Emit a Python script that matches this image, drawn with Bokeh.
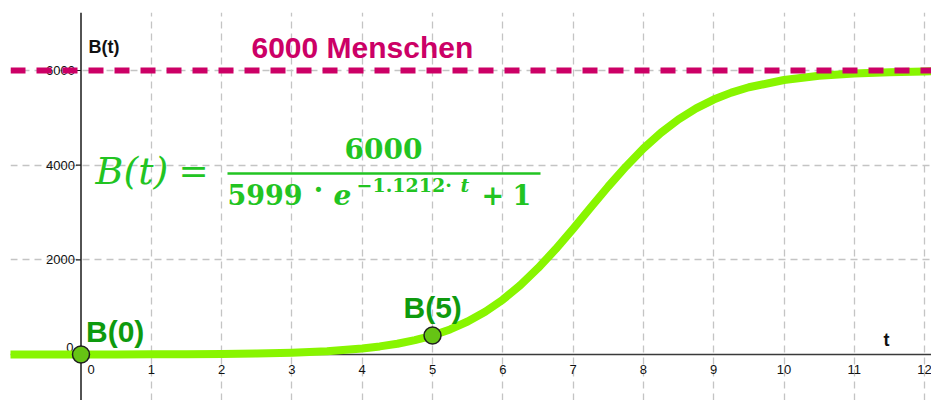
from bokeh.plotting import figure
from bokeh.models import Range1d, Span, Label, FixedTicker, Grid, ColumnDataSource
from bokeh.embed import file_html
from bokeh.resources import INLINE
from bokeh.core.properties import value

# ---------------- data ----------------
t_vals = [-1.0, -0.5, 0.0, 0.5, 1.0, 1.5, 2.0, 2.5, 3.0, 3.5, 4.0, 4.25, 4.5, 4.75,
          5.0, 5.25, 5.5, 5.75, 6.0, 6.25, 6.5, 6.75, 7.0, 7.25, 7.5, 7.75, 8.0,
          8.25, 8.5, 8.75, 9.0, 9.25, 9.5, 10.0, 10.5, 11.0, 11.5, 12.0, 12.5]
b_vals = [0, 0, 1, 2, 4, 7, 12, 22, 39, 70, 128, 171, 228, 305,
          401, 530, 697, 904, 1158, 1466, 1823, 2222, 2655, 3105, 3550, 3968, 4351,
          4684, 4967, 5199, 5386, 5533, 5646, 5800, 5889, 5938, 5966, 5981, 5990]

points_t = [0, 5]
points_b = [0, 400]
point_labels = ["B(0)", "B(5)"]

capacity = 6000
capacity_label = "6000 Menschen"

x_ticks = [1, 2, 3, 4, 5, 6, 7, 8, 9, 10, 11, 12]
x_tick_labels = ["1", "2", "3", "4", "5", "6", "7", "8", "9", "10", "11", "12"]
y_ticks = [2000, 4000, 6000]
y_tick_labels = ["2000", "4000", "6000"]

# ---------------- layout helpers (page pixel -> data) ----------------
X0, SX = 80.5, 70.3        # page px of t=0, px per unit
Y0, SY = 354.0, 0.04733    # page px of B=0, px per person


def dx(px):
    return (px - X0) / SX


def dy(py):
    return (Y0 - py) / SY


p = figure(width=931, height=400, output_backend="svg", toolbar_location=None,
           x_range=Range1d(dx(10), dx(931)), y_range=Range1d(dy(400), dy(12)),
           x_axis_location=None, y_axis_location=None,
           min_border_left=10, min_border_right=0, min_border_top=12, min_border_bottom=0)
p.outline_line_color = None
p.background_fill_color = "white"
p.border_fill_color = "white"
p.grid.visible = False

grid_style = dict(grid_line_color="#c4c4c4", grid_line_dash="7 5", grid_line_width=1.3)
p.add_layout(Grid(dimension=0, ticker=FixedTicker(ticks=x_ticks), **grid_style))
p.add_layout(Grid(dimension=1, ticker=FixedTicker(ticks=y_ticks), **grid_style))

# axes lines
p.add_layout(Span(location=0, dimension="height", line_color="#1a1a1a", line_width=1.5, level="underlay"))
p.add_layout(Span(location=0, dimension="width", line_color="#3a3a3a", line_width=1.5, level="underlay"))

# y tick marks and labels
p.segment(x0=dx(75.5), x1=0, y0=y_ticks, y1=y_ticks, line_color="#1a1a1a", line_width=1.2)
tick_font = dict(text_font=value("Liberation Sans"), text_font_size="13px", text_color="#111111")
p.text(x=dx(74.5), y=y_ticks, text=y_tick_labels, text_align="right", text_baseline="middle", **tick_font)
p.text(x=x_ticks, y=dy(369), text=x_tick_labels, text_align="center", text_baseline="middle", **tick_font)
p.text(x=[dx(73)], y=[dy(347)], text=["0"], text_align="right", text_baseline="middle", **tick_font)
p.text(x=[dx(87)], y=[dy(369)], text=["0"], text_align="left", text_baseline="middle", **tick_font)

# curve
src = ColumnDataSource(dict(t=t_vals, b=b_vals))
p.line("t", "b", source=src, line_color="#88f500", line_width=8, line_cap="round", line_join="round")

# capacity line
p.add_layout(Span(location=capacity, dimension="width", line_color="#cc0066",
                  line_width=6, line_dash="15 11"))

# points
p.scatter(points_t, points_b, size=17, fill_color="#66c414", line_color="#1e1e1e", line_width=1.5)

lab_font = dict(text_font=value("Liberation Sans"), text_font_style="bold",
                text_font_size="30px", text_color="#0e9a0e", text_baseline="alphabetic")
p.text(x=[points_t[0]], y=[points_b[0]], text=[point_labels[0]], x_offset=5, y_offset=-23, **lab_font)
p.text(x=[points_t[1]], y=[points_b[1]], text=[point_labels[1]], x_offset=-29, y_offset=-28.5, **lab_font)

# annotations
p.add_layout(Label(x=dx(251), y=dy(46.5), text=capacity_label, text_font="Liberation Sans",
                   text_font_style="bold", text_font_size="30px", text_color="#cc0066",
                   text_baseline="alphabetic"))
p.add_layout(Label(x=dx(88), y=dy(46), text="B(t)", text_font="Liberation Sans",
                   text_font_style="bold", text_font_size="18px", text_color="#111111",
                   text_baseline="alphabetic"))
p.add_layout(Label(x=dx(883), y=dy(339), text="t", text_font="Liberation Sans",
                   text_font_style="bold", text_font_size="18px", text_color="#111111",
                   text_baseline="alphabetic"))

# formula
G = "#22c422"


def flabel(px, py, txt, size, style="bold", align="left", baseline="alphabetic"):
    p.add_layout(Label(x=dx(px), y=dy(py), text=txt, text_font="DejaVu Serif",
                       text_font_style=style, text_font_size=size, text_color=G,
                       text_align=align, text_baseline=baseline))


flabel(95, 170, "B(t)", "38px", style="italic")
flabel(178, 170, "=", "36px", style="normal")
flabel(383, 147.5, "6000", "28px", align="center")
p.segment(x0=[dx(227)], x1=[dx(540)], y0=[dy(173)], y1=[dy(173)], line_color=G, line_width=2.5)
flabel(227, 194, "5999", "27px")
flabel(318, 189, "·", "27px", align="center")
flabel(333, 194, "e", "28px", style="bold italic")
flabel(356, 184, "\u22121.1212\u00b7", "19px")
flabel(460, 184, "t", "19px", style="bold italic")
flabel(481, 194, "+", "27px")
flabel(512, 194, "1", "27px")

open("out.html", "w").write(file_html(p, INLINE))
